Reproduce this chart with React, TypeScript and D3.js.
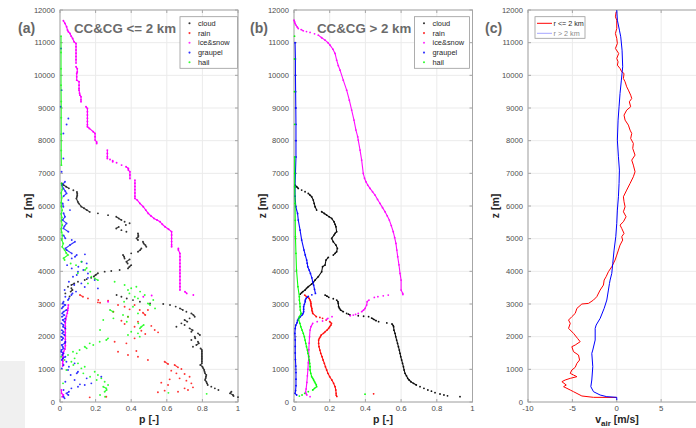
import React from 'react';
import * as d3 from 'd3';

type P = [number, number];

const W = 696;
const H = 428;

const zTicks = [0, 1000, 2000, 3000, 4000, 5000, 6000, 7000, 8000, 9000, 10000, 11000, 12000];
const pTicks = [0, 0.2, 0.4, 0.6, 0.8, 1];
const pTickLabels = ['0', '0.2', '0.4', '0.6', '0.8', '1'];
const vTicks = [-10, -5, 0, 5, 10];
const vTickLabels = ['-10', '-5', '0', '5', '10'];
const categories = ['cloud', 'rain', 'ice&snow', 'graupel', 'hail'];
const catColors = ['#000000', '#ff0000', '#ff00ff', '#0000ff', '#00ff00'];
const lineNames = ['r <= 2 km', 'r > 2 km'];
const lineColors = ['#ff0000', '#0000ff'];
const panelTags = ['(a)', '(b)', '(c)'];
const panelTitles = ['CC&CG <= 2 km', 'CC&CG > 2 km'];

// ---------- panel (a): [z (m), p] ----------
const aCloud: P[] = [
  [6690, .01], [6640, .02], [6590, .035], [6540, .05], [6480, .075], [6430, .095], [6380, .097], [6330, .097], [6280, .095], [6230, .092],
  [6130, .1], [6080, .105], [5980, .12], [5930, .135], [5880, .15], [5820, .167], [5775, .213], [5720, .27], [5670, .316], [5620, .33],
  [5570, .345], [5520, .363], [5470, .391], [5420, .37], [5360, .33], [5310, .316], [5260, .345], [5210, .373], [5160, .438], [5100, .44],
  [5060, .44], [5010, .43], [4960, .438], [4905, .466], [4850, .47], [4800, .48], [4750, .485], [4700, .457], [4650, .45], [4600, .438],
  [4550, .40], [4500, .354], [4450, .36], [4395, .363], [4365, .391], [4295, .373], [4240, .38], [4190, .40], [4140, .39], [4090, .382],
  [4040, .335], [4010, .288], [3990, .251], [3940, .213], [3890, .2], [3840, .19], [3800, .175], [3760, .15], [3735, .139], [3680, .101],
  [3630, .08], [3580, .064], [3530, .045], [3480, .064], [3430, .07], [3380, .06], [3325, .03], [3230, .054],
  [3275, .318], [3220, .345], [3170, .375], [3120, .41], [3070, .449], [3020, .506], [3000, .58], [2970, .618], [2920, .65], [2866, .674],
  [2815, .69], [2764, .71], [2713, .738], [2660, .75], [2611, .757], [2560, .728], [2509, .70], [2460, .715], [2407, .682], [2356, .70],
  [2305, .654], [2254, .728], [2200, .745], [2152, .738], [2101, .775], [2050, .786], [2000, .757], [1950, .76], [1897, .738], [1846, .775],
  [1795, .78], [1744, .766], [1693, .747], [1640, .79], [1591, .797], [1540, .797], [1490, .797], [1440, .797], [1387, .797], [1340, .797],
  [1290, .797], [1240, .797], [1183, .797], [1132, .788], [1081, .80], [1030, .805], [979, .81], [928, .812], [877, .815], [826, .822],
  [775, .82], [724, .818], [673, .815], [622, .822], [571, .826], [520, .83], [470, .85], [418, .87], [367, .89], [316, .963], [265, .955],
  [214, .972], [184, .975], [150, 1.0],
];

const aRain: P[] = [
  [3274, .112], [3223, .129], [3172, .157], [3121, .215], [3100, .27], [3050, .213], [3040, .225], [2968, .326], [2917, .363], [2836, .391],
  [2968, .419], [2815, .448], [2764, .30], [2734, .466], [2662, .479], [2815, .494], [2611, .382], [2489, .345], [2387, .363], [2458, .438],
  [2305, .419], [2330, .513], [2203, .532], [2132, .551], [2180, .457], [2081, .479], [1948, .419], [1795, .373], [1846, .307], [1540, .326],
  [1438, .382], [1560, .429], [1387, .438], [1285, .494], [1234, .588], [1163, .607], [1132, .644], [1061, .663], [1010, .682], [959, .625],
  [877, .654], [857, .70], [775, .728], [724, .672], [653, .71], [571, .738], [449, .747], [367, .719], [316, .663], [418, .70],
  [694, .616], [592, .569], [520, .607], [347, .588], [163, .26], [143, .167], [300, .55],
];

const aIce: P[] = [
  [11670, .019], [11590, .028], [11485, .037], [11390, .042], [11332, .047], [11281, .056], [11200, .063], [11128, .071], [11026, .079],
  [10975, .09], [10875, .09], [10775, .09], [10675, .09], [10575, .09], [10475, .09], [10375, .09], [10261, .09], [10200, .097], [10100, .097],
  [10057, .094], [9953, .094], [9853, .094], [9802, .107], [9700, .107], [9600, .107], [9547, .107], [9450, .11], [9394, .112], [9343, .118],
  [9250, .118], [9190, .118], [9037, .146], [8986, .154], [8886, .154], [8786, .154], [8686, .154], [8586, .154], [8486, .154], [8425, .154],
  [8374, .165], [8272, .187], [8221, .197], [8120, .197], [8017, .197], [7960, .206], [7915, .206], [7711, .266], [7610, .266], [7510, .266],
  [7456, .266], [7425, .281], [7385, .296], [7354, .296], [7323, .318], [7252, .346], [7201, .371], [7150, .384], [7100, .384], [7048, .393],
  [6950, .393], [6844, .393], [6793, .421], [6700, .421], [6600, .421], [6500, .421], [6400, .421], [6300, .421], [6232, .421], [6181, .434],
  [6079, .449], [5977, .468], [5875, .482], [5773, .496], [5700, .51], [5620, .528], [5570, .545], [5518, .562], [5440, .575], [5365, .59],
  [5290, .61], [5212, .627], [5110, .627], [5010, .627], [4910, .627], [4810, .627], [4753, .627], [4702, .665], [4651, .665], [4549, .674],
  [4450, .674], [4350, .674], [4245, .674], [4140, .674], [4040, .674], [3940, .674], [3840, .674], [3733, .674], [3630, .674], [3530, .674],
  [3427, .674], [3376, .702], [3325, .712], [3274, .749], [3260, .515], [3223, .468], [3070, .27],
  [2968, .047], [2870, .045], [2800, .043], [2720, .041], [2620, .036], [2520, .032], [2420, .03], [2320, .03], [2220, .03], [2120, .03],
  [2020, .03], [1920, .03], [1820, .03], [1720, .03], [1620, .028], [1540, .02], [1480, .017], [1400, .017], [1330, .017], [1250, .016],
  [1183, .015], [1100, .015], [370, .008], [265, .009], [214, .019], [160, .012],
];

const aGraupel: P[] = [
  [10822, .006], [9547, .009], [9037, .004], [8680, .047], [8497, .037], [8221, .019], [7456, .019], [7048, .009], [6742, .028], [6640, .01],
  [6538, .019], [6450, .03], [6385, .037], [6300, .02], [6181, .047], [6080, .015], [5977, .019], [5875, .056], [5780, .02], [5671, .028],
  [5570, .015], [5467, .037], [5380, .025], [5314, .019], [5212, .047], [5100, .02], [5010, .03], [4957, .066], [4906, .084], [4804, .056],
  [4700, .03], [4651, .037], [4549, .066], [4498, .094], [4520, .14], [4447, .084], [4396, .066], [4294, .122], [4243, .15], [4190, .04],
  [4141, .103], [4090, .066], [4039, .131], [3988, .101], [3935, .157], [3886, .094], [3835, .073], [3800, .157], [3733, .195], [3680, .05],
  [3630, .12], [3580, .08], [3520, .139], [3478, .213], [3427, .026], [3380, .09], [3325, .07], [3274, .064], [3220, .03], [3170, .05],
  [3121, .045], [3070, .02], [3019, .015], [2968, .03], [2917, .017], [2866, .01], [2815, .036], [2764, .02], [2713, .012], [2660, .025],
  [2611, .011], [2560, .03], [2509, .015], [2458, .026], [2407, .008], [2356, .02], [2305, .017], [2254, .03], [2200, .01], [2150, .02],
  [2101, .012], [2050, .025], [2000, .007], [1950, .018], [1897, .01], [1846, .03], [1795, .026], [1744, .01], [1693, .015], [1640, .02],
  [1591, .008], [1540, .007], [1490, .02], [1438, .012], [1387, .03], [1336, .015], [1285, .01], [1234, .036], [1183, .082], [1132, .02],
  [1081, .05], [1030, .01], [979, .045], [928, .101], [877, .094], [826, .06], [775, .232], [724, .15], [673, .082], [622, .03],
  [571, .176], [540, .112], [520, .139], [469, .101], [418, .064], [367, .02], [316, .05], [265, .036], [214, .047], [163, .02], [112, .026],
];

const aHail: P[] = [
  [11200, .006], [10700, .006], [10200, .006], [9700, .006], [9200, .007], [8700, .007], [8200, .007], [7700, .007], [7250, .008],
  [6690, .009], [6500, .012], [6400, .007], [6250, .01], [6100, .007], [5980, .008], [5870, .012], [5760, .007], [5650, .01], [5540, .008],
  [5420, .012], [5300, .007], [5200, .009], [5100, .013], [4960, .01], [4850, .018], [4750, .012], [4650, .026], [4560, .035], [4498, .045],
  [4400, .02], [4345, .026], [4294, .12], [4240, .06], [4190, .09], [4100, .15], [4040, .14], [3990, .17], [3940, .1], [3835, .176],
  [3784, .195], [3730, .213], [3682, .307], [3631, .157], [3580, .363], [3529, .429], [3480, .40], [3427, .382], [3380, .45], [3325, .39],
  [3274, .476], [3223, .42], [3172, .438], [3121, .524], [3070, .36], [3019, .494], [2968, .506], [2917, .41], [2866, .534], [2815, .281],
  [2764, .298], [2713, .438], [2662, .354], [2611, .382], [2560, .30], [2509, .243], [2458, .375], [2407, .44], [2356, .47], [2305, .457],
  [2254, .449], [2203, .225], [2152, .40], [2101, .438], [2050, .382], [2000, .448], [1948, .27], [1897, .26], [1846, .223], [1795, .167],
  [1744, .187], [1693, .139], [1642, .15], [1591, .11], [1540, .073], [1489, .094], [1438, .045], [1387, .007], [1336, .082], [1285, .026],
  [1234, .064], [1183, .101], [1132, .075], [1081, .139], [1030, .12], [979, .036], [928, .195], [877, .131], [826, .213], [775, .169],
  [724, .232], [673, .206], [622, .251], [571, .017], [520, .27], [469, .243], [418, .26], [367, .262], [316, .251], [280, .609],
  [250, .824], [214, .225], [163, .253],
];

// ---------- panel (b): [z (m), p] ----------
const bCloud: P[] = [
  [6640, .006], [6590, .015], [6538, .024], [6487, .043], [6436, .062], [6385, .08], [6330, .09], [6283, .099], [6181, .108], [6080, .113],
  [5977, .118], [5875, .127], [5824, .155], [5770, .17], [5722, .183], [5670, .197], [5620, .211], [5518, .224], [5440, .23], [5365, .235],
  [5212, .239], [5160, .23], [5110, .224], [5008, .211], [4906, .22], [4804, .235], [4702, .243], [4600, .239], [4550, .23], [4498, .22],
  [4427, .192], [4345, .179], [4192, .174], [4141, .16], [3988, .155], [3835, .136], [3733, .118], [3660, .108], [3611, .099], [3529, .08],
  [3480, .07], [3427, .062], [3380, .05], [3346, .043], [3300, .035],
  [3274, .174], [3240, .185], [3203, .195], [3160, .22], [3121, .239], [3070, .246], [3019, .248], [2917, .25], [2866, .255], [2815, .261],
  [2764, .276], [2713, .295], [2690, .305], [2662, .314], [2640, .36], [2625, .39], [2611, .418], [2570, .435], [2530, .446], [2490, .46],
  [2458, .474], [2420, .52], [2387, .549], [2340, .556], [2305, .558], [2200, .56], [2101, .566], [2000, .57], [1897, .575], [1795, .58],
  [1693, .585], [1591, .59], [1489, .594], [1387, .598], [1285, .603], [1183, .608], [1081, .613], [979, .617], [877, .622], [800, .63],
  [724, .637], [673, .645], [620, .655], [571, .669], [520, .685], [469, .706], [418, .728], [367, .75], [330, .77], [286, .79],
  [245, .818], [214, .84], [190, .86], [163, .93],
];

const bRain: P[] = [
  [3274, .06], [3223, .07], [3172, .085], [3121, .09], [3070, .093], [3019, .095], [2968, .095], [2917, .097], [2866, .1], [2815, .1],
  [2764, .103], [2713, .105], [2611, .125], [2590, .145], [2560, .16], [2509, .18], [2458, .2], [2407, .21], [2356, .207], [2305, .2],
  [2254, .194], [2203, .185], [2152, .175], [2101, .165], [2050, .152], [2000, .148], [1948, .142], [1897, .138], [1795, .138], [1693, .14],
  [1591, .145], [1489, .15], [1387, .157], [1285, .163], [1183, .17], [1081, .176], [979, .183], [877, .19], [775, .2], [673, .212],
  [571, .222], [469, .23], [367, .234], [265, .236], [250, .446], [214, .236], [170, .24],
];

const bIce: P[] = [
  [11690, 0], [11640, .003], [11587, .006], [11530, .012], [11480, .018], [11434, .024], [11400, .04], [11363, .052], [11340, .07], [11312, .09],
  [11270, .115], [11230, .136], [11150, .155], [11077, .174], [11000, .19], [10924, .202], [10800, .218], [10670, .23], [10465, .239],
  [10300, .248], [10159, .258], [9853, .276], [9547, .295], [9241, .31], [8935, .323], [8629, .336], [8323, .347], [8119, .357], [8017, .36],
  [7711, .37], [7405, .379], [6997, .388], [6850, .395], [6742, .403], [6640, .413], [6538, .426], [6436, .44], [6334, .454], [6200, .468],
  [6079, .482], [5950, .496], [5824, .51], [5700, .522], [5569, .534], [5400, .545], [5212, .556], [5030, .564], [4855, .571], [4650, .576],
  [4447, .581], [4200, .588], [3937, .594], [3733, .60], [3427, .60], [3325, .609], [3290, .61],
  [3274, .528], [3250, .50], [3223, .47], [3200, .45], [3121, .42], [3070, .41], [2968, .407], [2866, .398], [2815, .39], [2764, .379],
  [2713, .36], [2680, .345], [2662, .332], [2640, .315], [2611, .213], [2560, .19], [2530, .183], [2480, .16], [2458, .13], [2407, .105],
  [2305, .095], [2203, .09], [2000, .087], [1800, .085], [1600, .083], [1400, .083], [1200, .08], [1000, .078], [800, .075], [600, .072],
  [400, .068], [300, .065], [250, .068], [214, .072], [163, .09],
];

const bGraupel: P[] = [
  [11000, .006], [10500, .008], [10000, .008], [9500, .009], [9000, .01], [8500, .011], [8000, .011], [7500, .011], [7000, .008], [6590, .006],
  [6300, .006], [5977, .01], [5770, .02], [5569, .024], [5263, .034], [4957, .043], [4651, .056], [4500, .063], [4345, .071], [4250, .074],
  [4141, .077], [4040, .085], [3937, .092], [3800, .1], [3680, .105], [3580, .11], [3450, .115], [3325, .12], [3280, .1], [3230, .08],
  [3170, .068], [3121, .063], [3070, .063], [2990, .058], [2917, .054], [2840, .054], [2764, .054], [2700, .05], [2662, .045], [2610, .035],
  [2560, .026], [2500, .02], [2428, .017], [2350, .01], [2250, .007], [2100, .005], [1900, .007], [1700, .007], [1500, .007], [1300, .008],
  [1100, .01], [900, .011], [700, .011], [500, .011], [350, .009], [265, .006], [214, .015],
];

const bHail: P[] = [
  [11200, .003], [10500, .003], [9500, .003], [8500, .004], [7500, .004], [7000, .004], [6590, .004], [6080, .006], [5560, .007], [5060, .008],
  [4550, .011], [4040, .014], [3529, .022], [3223, .03], [3121, .03], [3019, .033], [2917, .034], [2815, .035], [2713, .04], [2611, .03],
  [2509, .026], [2407, .033], [2305, .038], [2203, .045], [2101, .052], [2000, .058], [1897, .062], [1795, .066], [1693, .07], [1591, .075],
  [1489, .078], [1387, .082], [1285, .086], [1183, .088], [1081, .09], [979, .09], [877, .094], [775, .099], [724, .105], [673, .11],
  [622, .115], [571, .12], [520, .125], [469, .127], [418, .115], [367, .105], [316, .08], [265, .06], [240, .398], [214, .045], [180, .03],
];

// ---------- panel (c): [z (m), v_air (m/s)] ----------
const cNear: P[] = [
  [11944, -.07], [11791, -.15], [11689, 0], [11434, 0], [11281, -.15], [11128, 0], [10975, .07], [10822, -.15], [10669, .22], [10516, 0],
  [10414, .15], [10312, .07], [10210, .37], [10108, .56], [10057, .82], [9904, .75], [9802, .94], [9649, 1.12], [9547, 1.31], [9394, 1.57],
  [9292, 1.69], [9190, 1.42], [9037, 1.57], [8935, 1.12], [8782, .82], [8629, .94], [8476, 1.31], [8323, 1.5], [8221, 1.69], [8068, 1.57],
  [7915, 1.87], [7762, 1.8], [7558, 2.06], [7405, 1.69], [7252, 1.87], [7048, 2.06], [6895, 1.87], [6691, 1.5], [6487, 1.12], [6283, .75],
  [6130, .82], [5977, .94], [5824, .75], [5671, 1.05], [5518, .75], [5416, .37], [5314, .56], [5161, .82], [5059, .56], [4957, .67],
  [4804, .37], [4651, .19], [4498, 0], [4345, -.19], [4141, -.56], [3988, -.94], [3835, -1.2], [3733, -1.42], [3580, -1.5], [3427, -1.87],
  [3223, -2.25], [3121, -2.62], [3019, -3.18], [3000, -3.93], [2866, -4.49], [2713, -4.68], [2611, -5.06], [2509, -5.43], [2407, -5.24],
  [2254, -5.43], [2101, -4.87], [1948, -4.42], [1846, -4.12], [1744, -4.68], [1693, -5.06], [1540, -4.87], [1438, -4.31], [1285, -4.19],
  [1183, -4.49], [1061, -4.68], [979, -5.06], [877, -5.24], [826, -4.87], [775, -4.49], [724, -5.24], [673, -5.81], [622, -6.18],
  [520, -5.69], [469, -5.99], [367, -5.24], [316, -4.87], [184, -3.93], [143, -2.62], [140, 0],
];

const cFar: P[] = [
  [11995, 0], [11689, .07], [11383, .3], [11179, .45], [10771, .6], [10261, .67], [9853, .52], [9445, .37], [9037, .26], [8629, .15],
  [8017, .07], [7507, .19], [7099, .3], [6691, .26], [6283, .19], [5875, .07], [5467, 0], [5059, -.11], [4651, -.3], [4243, -.45],
  [3937, -.56], [3733, -.75], [3631, -.82], [3427, -.94], [3121, -1.12], [2866, -1.42], [2560, -1.87], [2356, -2.32], [2254, -2.43],
  [1897, -2.43], [1591, -2.7], [1489, -2.81], [1081, -2.7], [673, -2.81], [469, -2.92], [316, -2.62], [214, -1.87], [163, -1.12], [143, 0],
  [61, 0],
];

// ---------- layout ----------
const yScale = d3.scaleLinear().domain([0, 12000]).range([402, 10]);
const xA = d3.scaleLinear().domain([0, 1]).range([60, 238]);
const xB = d3.scaleLinear().domain([0, 1]).range([294, 472.5]);
const xC = d3.scaleLinear().domain([-10, 10]).range([528, 705.5]);

const FONT = "'Liberation Sans', Arial, sans-serif";

function Series({ data, x, color, maxDz, r, op }: { data: P[]; x: d3.ScaleLinear<number, number>; color: string; maxDz: number; r: number; op: number }) {
  const pts = d3.sort(data, (a, b) => b[0] - a[0]).map(([z, p]) => [x(p), yScale(z), z] as [number, number, number]);
  let d = '';
  for (let i = 1; i < pts.length; i++) {
    const a = pts[i - 1];
    const b = pts[i];
    const dz = a[2] - b[2];
    const dx = Math.abs(a[0] - b[0]);
    const dy = Math.abs(a[1] - b[1]);
    if (dz <= maxDz && dx <= 1.5 * dy + 0.6) d += `M${a[0].toFixed(2)},${a[1].toFixed(2)}L${b[0].toFixed(2)},${b[1].toFixed(2)}`;
  }
  return (
    <g opacity={op}>
      <path d={d} stroke={color} strokeWidth={1.1} fill="none" />
      {pts.map((q, i) => (
        <circle key={i} cx={q[0]} cy={q[1]} r={r} fill={color} />
      ))}
    </g>
  );
}

function Axes({ x, ticks, labels, gridTicks }: { x: d3.ScaleLinear<number, number>; ticks: number[]; labels: string[]; gridTicks: number[] }) {
  const [x0, x1] = x.range();
  const y0 = yScale(0);
  const y1 = yScale(12000);
  const axisCol = '#a6a6a6';
  return (
    <g>
      <rect x={x0} y={y1} width={x1 - x0} height={y0 - y1} fill="#ffffff" />
      {gridTicks.map((t, i) => (
        <line key={'gx' + i} x1={x(t)} x2={x(t)} y1={y1} y2={y0} stroke="#ebebeb" strokeWidth={1} />
      ))}
      {zTicks.map((t, i) => (
        <line key={'gy' + i} x1={x0} x2={x1} y1={yScale(t)} y2={yScale(t)} stroke="#ebebeb" strokeWidth={1} />
      ))}
      {zTicks.map((t, i) => (
        <g key={'ty' + i}>
          <line x1={x0} x2={x0 + 3} y1={yScale(t)} y2={yScale(t)} stroke={axisCol} />
          <line x1={x1 - 3} x2={x1} y1={yScale(t)} y2={yScale(t)} stroke={axisCol} />
          <text x={x0 - 5} y={yScale(t)} dy="0.35em" textAnchor="end" fontSize={7.6} fill="#4d4d4d" fontFamily={FONT}>
            {String(t)}
          </text>
        </g>
      ))}
      {ticks.map((t, i) => (
        <g key={'tx' + i}>
          <line x1={x(t)} x2={x(t)} y1={y0} y2={y0 - 3} stroke={axisCol} />
          <line x1={x(t)} x2={x(t)} y1={y1} y2={y1 + 3} stroke={axisCol} />
          {x(t) < W - 6 && (
            <text x={x(t)} y={411} textAnchor="middle" fontSize={7.8} fill="#4d4d4d" fontFamily={FONT}>
              {labels[i]}
            </text>
          )}
        </g>
      ))}
      <rect x={x0} y={y1} width={x1 - x0} height={y0 - y1} fill="none" stroke={axisCol} strokeWidth={1} />
    </g>
  );
}

function PanelHeader({ tagX, tag, titleX, title }: { tagX: number; tag: string; titleX?: number; title?: string }) {
  return (
    <g fontFamily={FONT} fontWeight="bold">
      <text x={tagX} y={33} fontSize={14} fill="#666666">{tag}</text>
      {title && (
        <text x={titleX} y={33} fontSize={13.3} fill="#6b6b6b">{title}</text>
      )}
    </g>
  );
}

function YLabel({ x }: { x: number }) {
  return (
    <text transform={`translate(${x},206) rotate(-90)`} textAnchor="middle" dy="0.35em" fontSize={10.5} fontWeight="bold" fill="#262626" fontFamily={FONT}>
      z [m]
    </text>
  );
}

function DotLegend({ x0, x1 }: { x0: number; x1: number }) {
  const ys = [23.3, 33.1, 42.8, 52.6, 62.3];
  return (
    <g fontFamily={FONT}>
      <rect x={x0} y={16.7} width={x1 - x0} height={51.6} fill="#ffffff" stroke="#9a9a9a" strokeWidth={0.8} />
      {categories.map((c, i) => (
        <g key={c}>
          <circle cx={x0 + 9.5} cy={ys[i]} r={1.05} fill={catColors[i]} opacity={0.8} />
          <text x={x0 + 18} y={ys[i]} dy="0.35em" fontSize={7.4} fill="#262626">{c}</text>
        </g>
      ))}
    </g>
  );
}

export default function App() {
  const aSeries: [P[], number][] = [[aCloud, 110], [aRain, 110], [aIce, 110], [aGraupel, 110], [aHail, 520]];
  const bSeries: [P[], number][] = [[bCloud, 520], [bRain, 520], [bIce, 520], [bGraupel, 520], [bHail, 520]];
  const lineGen = (x: d3.ScaleLinear<number, number>) =>
    d3.line<P>().x((d) => x(d[1])).y((d) => yScale(d[0]));
  const cLines = [cNear, cFar];
  return (
    <svg width={W} height={H} viewBox={`0 0 ${W} ${H}`} style={{ position: 'absolute', left: 0, top: 0, background: '#ffffff' }}>
      <rect x={0} y={0} width={W} height={H} fill="#ffffff" />
      <rect x={0} y={361} width={25} height={67} fill="#f0f0f0" />

      {/* panel (a) */}
      <Axes x={xA} ticks={pTicks} labels={pTickLabels} gridTicks={pTicks} />
      {aSeries.map(([d, g], i) => (
        <Series key={'a' + i} data={d} x={xA} color={catColors[i]} maxDz={g} r={0.95} op={i === 2 ? 1 : 0.8} />
      ))}
      <DotLegend x0={180} x1={237.5} />
      <PanelHeader tagX={18} tag={panelTags[0]} titleX={74} title={panelTitles[0]} />
      <YLabel x={28.5} />
      <text x={149} y={423} textAnchor="middle" fontSize={10.5} fontWeight="bold" fill="#262626" fontFamily={FONT}>p [-]</text>

      {/* panel (b) */}
      <Axes x={xB} ticks={pTicks} labels={pTickLabels} gridTicks={pTicks} />
      {bSeries.map(([d, g], i) => (
        <Series key={'b' + i} data={d} x={xB} color={catColors[i]} maxDz={g} r={0.9} op={0.95} />
      ))}
      <DotLegend x0={414.5} x1={469.5} />
      <PanelHeader tagX={250} tag={panelTags[1]} titleX={317} title={panelTitles[1]} />
      <YLabel x={262} />
      <text x={383} y={423} textAnchor="middle" fontSize={10.5} fontWeight="bold" fill="#262626" fontFamily={FONT}>p [-]</text>

      {/* panel (c) */}
      <Axes x={xC} ticks={vTicks} labels={vTickLabels} gridTicks={vTicks} />
      {cLines.map((d, i) => (
        <path key={'c' + i} d={lineGen(xC)(d) || ''} stroke={lineColors[i]} strokeWidth={1} fill="none" />
      ))}
      <g fontFamily={FONT}>
        <rect x={535} y={16.7} width={50} height={21.6} fill="#ffffff" stroke="#9a9a9a" strokeWidth={0.8} />
        {lineNames.map((n, i) => (
          <g key={n}>
            <line x1={537} x2={552} y1={23.3 + i * 10} y2={23.3 + i * 10} stroke={lineColors[i]} strokeWidth={1} opacity={i === 1 ? 0.35 : 1} />
            <text x={553.5} y={23.3 + i * 10} dy="0.35em" fontSize={7.2} fill={i === 1 ? '#8a8a8a' : '#262626'}>{n}</text>
          </g>
        ))}
      </g>
      <PanelHeader tagX={485} tag={panelTags[2]} />
      <YLabel x={495} />
      <text x={617} y={423} textAnchor="middle" fontSize={10.5} fontWeight="bold" fill="#262626" fontFamily={FONT}>
        v<tspan dy={3} fontSize={8}>air</tspan><tspan dy={-3}> [m/s]</tspan>
      </text>
    </svg>
  );
}
